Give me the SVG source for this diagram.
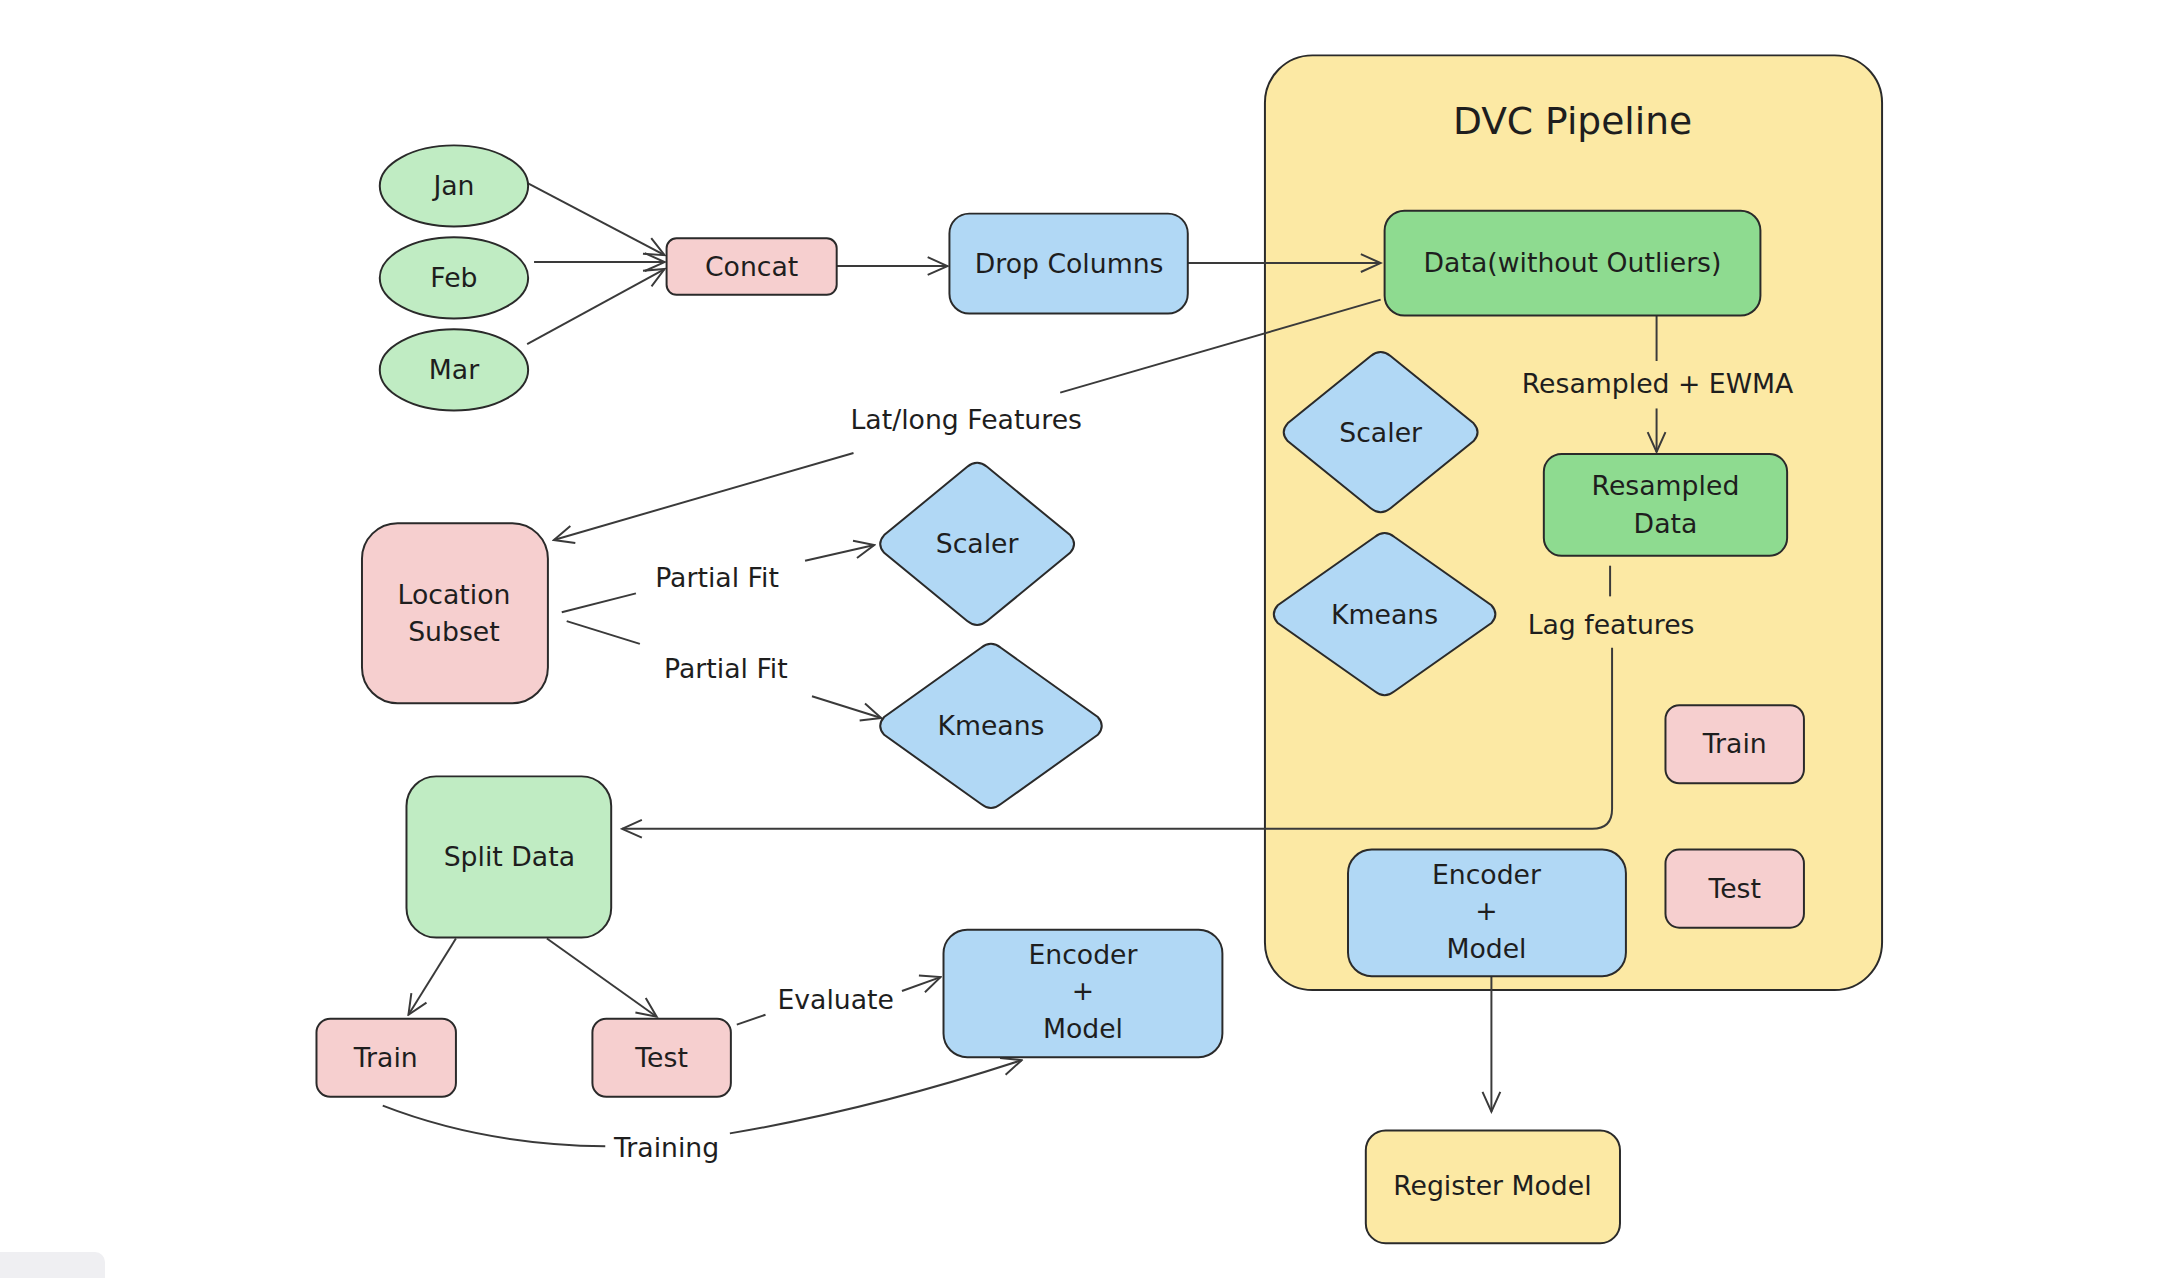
<svg xmlns="http://www.w3.org/2000/svg" width="2158" height="1278" viewBox="0 0 2158 1278">
<style>
.t{font-family:"DejaVu Sans","Liberation Sans",sans-serif;font-size:27px;fill:#1e1e1e;text-anchor:middle;dominant-baseline:central}
.n{stroke:#2a2a2a;stroke-width:2}
.g1{fill:#c0ecc3}.g2{fill:#8edb90}.pk{fill:#f6cfcf}.bl{fill:#b1d8f5}.yl{fill:#fce9a4}
.c{fill:none;stroke:#3a3a3a;stroke-width:2}
</style>
<defs>
<marker id="ah" viewBox="-24 -12 26 24" refX="0" refY="0" markerWidth="26" markerHeight="24" markerUnits="userSpaceOnUse" orient="auto">
<path d="M-20,-9 L0,0 L-20,9" fill="none" stroke="#3a3a3a" stroke-width="2"/>
</marker>
</defs>
<rect width="2158" height="1278" fill="#ffffff"/>
<rect x="-10" y="1252" width="115" height="40" rx="10" fill="#efeff2"/>
<g transform="scale(0.989)">
<g id="dvc-container">
<rect class="n yl" x="1279" y="56" width="624" height="945" rx="48"/>
<text class="t" x="1590" y="122" style="font-size:38px">DVC Pipeline</text>
</g>

<g id="connectors">
<line class="c" x1="533" y1="185" x2="672" y2="258" marker-end="url(#ah)"/>
<line class="c" x1="540" y1="265" x2="672" y2="265" marker-end="url(#ah)"/>
<line class="c" x1="533" y1="348" x2="672" y2="272" marker-end="url(#ah)"/>
<line class="c" x1="846" y1="269" x2="958" y2="269" marker-end="url(#ah)"/>
<line class="c" x1="1201" y1="266" x2="1396" y2="266" marker-end="url(#ah)"/>
<line class="c" x1="1396" y1="303" x2="1072" y2="397"/>
<line class="c" x1="863" y1="458" x2="560" y2="546" marker-end="url(#ah)"/>
<text class="t" x="977" y="424">Lat/long Features</text>
<line class="c" x1="1675" y1="319" x2="1675" y2="365"/>
<line class="c" x1="1675" y1="413" x2="1675" y2="457" marker-end="url(#ah)"/>
<text class="t" x="1676" y="388">Resampled + EWMA</text>
<line class="c" x1="1628" y1="572" x2="1628" y2="603"/>
<path class="c" d="M1630,655 L1630,818 Q1630,838 1610,838 L629,838" marker-end="url(#ah)"/>
<text class="t" x="1629" y="631">Lag features</text>
<line class="c" x1="568" y1="619" x2="643" y2="600"/>
<line class="c" x1="814" y1="567" x2="884" y2="551" marker-end="url(#ah)"/>
<text class="t" x="725" y="584">Partial Fit</text>
<line class="c" x1="573" y1="628" x2="647" y2="651"/>
<line class="c" x1="821" y1="704" x2="891" y2="726" marker-end="url(#ah)"/>
<text class="t" x="734" y="676">Partial Fit</text>
<line class="c" x1="461" y1="949" x2="413" y2="1026" marker-end="url(#ah)"/>
<line class="c" x1="553" y1="949" x2="664" y2="1028" marker-end="url(#ah)"/>
<line class="c" x1="745" y1="1036" x2="774" y2="1026"/>
<line class="c" x1="912" y1="1002" x2="951" y2="988" marker-end="url(#ah)"/>
<text class="t" x="845" y="1011">Evaluate</text>
<path class="c" d="M387,1118 Q490,1158 612,1159"/>
<path class="c" d="M738,1146 Q880,1122 1033,1072" marker-end="url(#ah)"/>
<text class="t" x="674" y="1160">Training</text>
<line class="c" x1="1508" y1="987" x2="1508" y2="1124" marker-end="url(#ah)"/>
</g>

<g id="jan"><ellipse class="n g1" cx="459" cy="188" rx="75" ry="41"/><text class="t" x="459" y="188">Jan</text></g>
<g id="feb"><ellipse class="n g1" cx="459" cy="281" rx="75" ry="41"/><text class="t" x="459" y="281">Feb</text></g>
<g id="mar"><ellipse class="n g1" cx="459" cy="374" rx="75" ry="41"/><text class="t" x="459" y="374">Mar</text></g>
<g id="concat"><rect class="n pk" x="674" y="241" width="172" height="57" rx="10"/><text class="t" x="760" y="269">Concat</text></g>
<g id="drop-columns"><rect class="n bl" x="960" y="216" width="241" height="101" rx="20"/><text class="t" x="1081" y="266">Drop Columns</text></g>
<g id="data-without-outliers"><rect class="n g2" x="1400" y="213" width="380" height="106" rx="20"/><text class="t" x="1590" y="265">Data(without Outliers)</text></g>
<g id="scaler-dvc"><path class="n bl" d="M1386,360 Q1396,352 1406,360 L1490,428 Q1498,437 1490,446 L1406,514 Q1396,522 1386,514 L1302,446 Q1294,437 1302,428 Z"/><text class="t" x="1396" y="437">Scaler</text></g>
<g id="kmeans-dvc"><path class="n bl" d="M1390,543 Q1400,535 1410,543 L1508,612 Q1516,621 1508,630 L1410,699 Q1400,707 1390,699 L1292,630 Q1284,621 1292,612 Z"/><text class="t" x="1400" y="621">Kmeans</text></g>
<g id="resampled-data"><rect class="n g2" x="1561" y="459" width="246" height="103" rx="18"/><text class="t" x="1684" y="491">Resampled</text><text class="t" x="1684" y="529">Data</text></g>
<g id="train-dvc"><rect class="n pk" x="1684" y="713" width="140" height="79" rx="14"/><text class="t" x="1754" y="752">Train</text></g>
<g id="test-dvc"><rect class="n pk" x="1684" y="859" width="140" height="79" rx="14"/><text class="t" x="1754" y="898">Test</text></g>
<g id="encoder-model-dvc"><rect class="n bl" x="1363" y="859" width="281" height="128" rx="24"/><text class="t" x="1503" y="884">Encoder</text><text class="t" x="1503" y="921">+</text><text class="t" x="1503" y="959">Model</text></g>
<g id="register-model"><rect class="n yl" x="1381" y="1143" width="257" height="114" rx="20"/><text class="t" x="1509" y="1199">Register Model</text></g>
<g id="location-subset"><rect class="n pk" x="366" y="529" width="188" height="182" rx="36"/><text class="t" x="459" y="601">Location</text><text class="t" x="459" y="639">Subset</text></g>
<g id="scaler"><path class="n bl" d="M978,472 Q988,464 998,472 L1082,541 Q1090,550 1082,559 L998,628 Q988,636 978,628 L894,559 Q886,550 894,541 Z"/><text class="t" x="988" y="550">Scaler</text></g>
<g id="kmeans"><path class="n bl" d="M992,655 Q1002,647 1012,655 L1110,725 Q1118,734 1110,743 L1012,813 Q1002,821 992,813 L894,743 Q886,734 894,725 Z"/><text class="t" x="1002" y="734">Kmeans</text></g>
<g id="split-data"><rect class="n g1" x="411" y="785" width="207" height="163" rx="30"/><text class="t" x="515" y="866">Split Data</text></g>
<g id="train"><rect class="n pk" x="320" y="1030" width="141" height="79" rx="14"/><text class="t" x="390" y="1069">Train</text></g>
<g id="test"><rect class="n pk" x="599" y="1030" width="140" height="79" rx="14"/><text class="t" x="669" y="1069">Test</text></g>
<g id="encoder-model"><rect class="n bl" x="954" y="940" width="282" height="129" rx="24"/><text class="t" x="1095" y="965">Encoder</text><text class="t" x="1095" y="1002">+</text><text class="t" x="1095" y="1040">Model</text></g>
</g>
</svg>
